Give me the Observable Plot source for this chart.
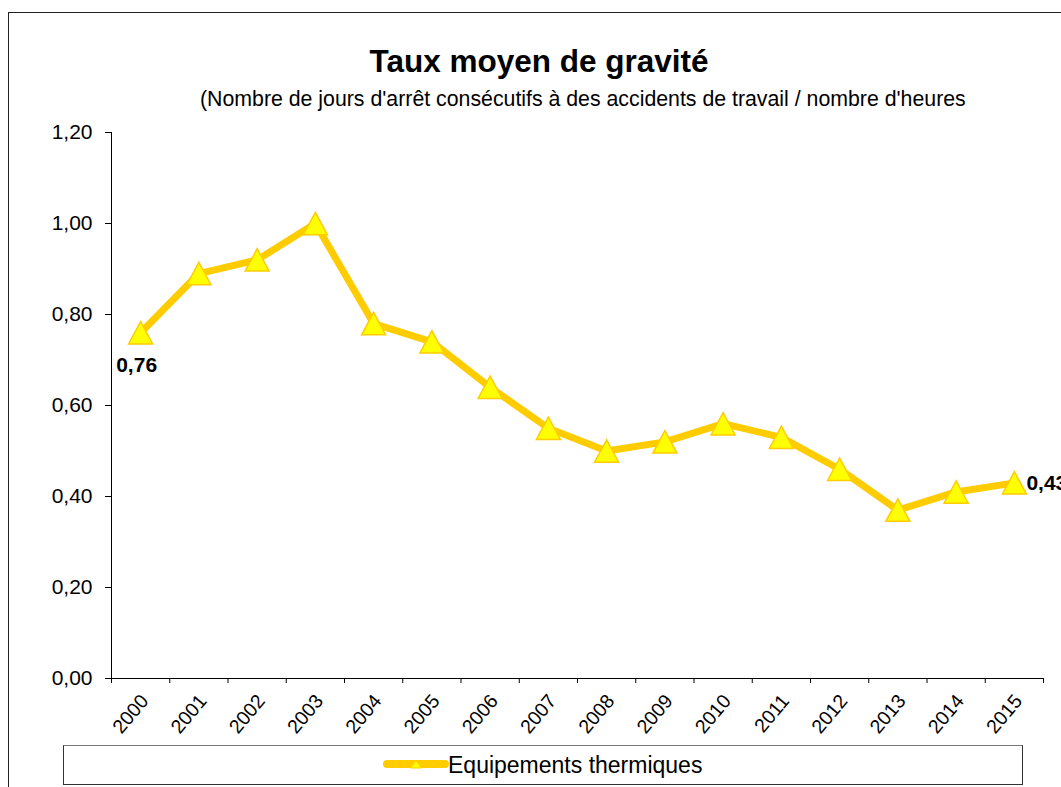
<!DOCTYPE html>
<html>
<head>
<meta charset="utf-8">
<script src="https://cdn.jsdelivr.net/npm/d3@7"></script>
<script src="https://cdn.jsdelivr.net/npm/@observablehq/plot@0.6"></script>
<style>
  html, body { margin: 0; padding: 0; background: #fff; overflow: hidden; }
  #wrap { position: relative; width: 1061px; height: 787px; overflow: hidden; font-family: "Liberation Sans", Arial, sans-serif; color: #000; }
  #frame { position: absolute; left: 8px; top: 12px; width: 1100px; height: 820px; border-left: 1.5px solid #222; border-top: 1.5px solid #222; }
  #title { position: absolute; left: 0; width: 1078px; top: 45px; line-height: 32px; font-size: 31.5px; font-weight: bold; text-align: center; white-space: nowrap; }
  #subtitle { position: absolute; left: 200px; top: 89px; line-height: 21px; font-size: 21.3px; white-space: nowrap; }
  #chart { position: absolute; left: 0; top: 0; }
  #legend { position: absolute; left: 63px; top: 745px; width: 958px; height: 38px; border: 1.5px solid #333; border-top-color: #777; }
  #legswatch { position: absolute; left: 383px; top: 754px; }
  #legtext { position: absolute; left: 448px; top: 754px; line-height: 23px; font-size: 23px; white-space: nowrap; }
</style>
</head>
<body>
<div id="wrap">
  <div id="frame"></div>
  <div id="legend"></div>
  <div id="chart"></div>
  <div id="title"></div>
  <div id="subtitle"></div>
  <svg id="legswatch" width="66" height="20">
    <line x1="4" y1="10" x2="62" y2="10" stroke="#FFCC00" stroke-width="8" stroke-linecap="round"></line>
    <polygon points="33,6.5 38.5,14 27.5,14" fill="#FFFF00" stroke="#FFCC00" stroke-width="1"></polygon>
  </svg>
  <div id="legtext"></div>
</div>
<script>
// ---- data ----
const titleText = "Taux moyen de gravité";
const subtitleText = "(Nombre de jours d'arrêt consécutifs à des accidents de travail / nombre d'heures";
const seriesName = "Equipements thermiques";
const years = ["2000","2001","2002","2003","2004","2005","2006","2007","2008","2009","2010","2011","2012","2013","2014","2015"];
const values = [0.76,0.89,0.92,1.00,0.78,0.74,0.64,0.55,0.50,0.52,0.56,0.53,0.46,0.37,0.41,0.43];
const yTicks = [0, 0.2, 0.4, 0.6, 0.8, 1.0, 1.2];
const labelBelow = ["2000"];
const labelRight = ["2015"];

document.getElementById("title").textContent = titleText;
document.getElementById("subtitle").textContent = subtitleText;
document.getElementById("legtext").textContent = seriesName;

const data = years.map((y, i) => ({year: y, i, v: values[i]}));
const fmt = d => d.toFixed(2).replace(".", ",");

// triangle marker centred on its bounding box
const tri = {
  draw(context, size) {
    const r = Math.sqrt(size / Math.PI);
    const hw = r * 1.2, hh = r * 1.12;
    context.moveTo(0, -hh);
    context.lineTo(hw, hh);
    context.lineTo(-hw, hh);
    context.closePath();
  }
};

const chart = Plot.plot({
  width: 1061,
  height: 787,
  marginLeft: 111,
  marginRight: 18,
  marginTop: 132,
  marginBottom: 109,
  style: {fontFamily: "'Liberation Sans', Arial, sans-serif", fontSize: "21px", color: "#000", background: "transparent", overflow: "visible"},
  x: {type: "linear", domain: [-0.5, years.length - 0.5]},
  y: {domain: [0, 1.2]},
  marks: [
    Plot.axisY({ticks: yTicks, tickFormat: fmt, tickSize: 6, tickPadding: 13, label: null, fontSize: 21}),
    Plot.axisX({ticks: d3.range(years.length), tickFormat: i => years[i], tickSize: 0, tickPadding: 19, tickRotate: -50, label: null, fontSize: 19.5, dx: 4}),
    Plot.axisX({ticks: d3.range(years.length + 1).map(i => i - 0.5), tickFormat: () => "", tickSize: 5, label: null}),
    Plot.ruleX([-0.5], {stroke: "#000"}),
    Plot.ruleY([0], {stroke: "#000"}),
    Plot.line(data, {x: "i", y: "v", stroke: "#FFCC00", strokeWidth: 7, strokeLinejoin: "round"}),
    Plot.dot(data, {x: "i", y: "v", symbol: tri, r: 10, fill: "#FFFF00", stroke: "#FFCC00", strokeWidth: 1.5}),
    Plot.text(data.filter(d => labelBelow.includes(d.year)), {x: "i", y: "v", text: d => fmt(d.v), dy: 33, dx: -4, fontWeight: "bold", fontSize: 21, fill: "#000"}),
    Plot.text(data.filter(d => labelRight.includes(d.year)), {x: "i", y: "v", text: d => fmt(d.v), dx: 12, textAnchor: "start", fontWeight: "bold", fontSize: 21, fill: "#000"})
  ]
});
document.getElementById("chart").appendChild(chart);
</script>
</body>
</html>
